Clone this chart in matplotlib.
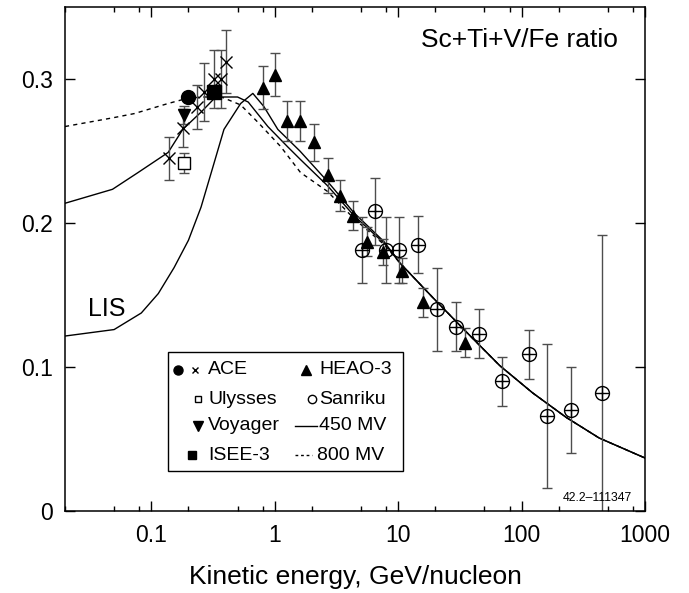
import numpy as np
import matplotlib
matplotlib.use('Agg')
from matplotlib import pyplot as plt
from matplotlib.patches import Rectangle

plt.rcParams['font.family'] = ['Liberation Sans', 'DejaVu Sans']

# model curves (LIS, 450 MV, 800 MV)
lis_x = [0.02, 0.05, 0.083, 0.114, 0.153, 0.20, 0.253, 0.316, 0.388, 0.53, 0.665, 0.815, 1.06, 1.6, 2.67, 4.4, 7.7, 10.4, 19.2, 36, 66.5, 123, 230, 425, 1000]
lis_y = [0.1215, 0.126, 0.1375, 0.151, 0.169, 0.188, 0.211, 0.239, 0.265, 0.283, 0.290, 0.281, 0.265, 0.250, 0.229, 0.207, 0.187, 0.172, 0.148, 0.124, 0.101, 0.082, 0.065, 0.0507, 0.0368]
m450_x = [0.02, 0.0485, 0.078, 0.137, 0.18, 0.253, 0.32, 0.38, 0.50, 0.61, 0.88, 1.27, 1.62, 2.67, 4.4, 7.7, 10.4, 19.2, 36, 66.5, 123, 230, 425, 1000]
m450_y = [0.2137, 0.2234, 0.235, 0.249, 0.265, 0.277, 0.286, 0.2875, 0.2875, 0.284, 0.267, 0.253, 0.244, 0.226, 0.205, 0.186, 0.172, 0.148, 0.124, 0.101, 0.082, 0.065, 0.0507, 0.0368]
m800_x = [0.02, 0.0485, 0.073, 0.137, 0.185, 0.25, 0.37, 0.53, 0.73, 1.12, 1.62, 2.67, 4.4, 7.7, 10.4, 19.2, 36, 66.5, 123, 230, 425, 1000]
m800_y = [0.267, 0.273, 0.276, 0.283, 0.286, 0.2875, 0.2875, 0.282, 0.270, 0.253, 0.235, 0.222, 0.203, 0.185, 0.172, 0.148, 0.124, 0.101, 0.082, 0.065, 0.0507, 0.0368]

# data
heao_x = [0.80, 1.0, 1.25, 1.6, 2.1, 2.7, 3.35, 4.3, 5.6, 7.6, 10.7, 16, 35]
heao_y = [0.294, 0.303, 0.271, 0.271, 0.256, 0.233, 0.219, 0.205, 0.187, 0.180, 0.167, 0.145, 0.117]
heao_e = [0.015, 0.015, 0.014, 0.014, 0.013, 0.012, 0.011, 0.010, 0.010, 0.009, 0.009, 0.010, 0.010]

san_x = [5.1, 6.5, 8.0, 10.2, 14.5, 20.6, 29.4, 45, 70, 114, 162, 253, 450]
san_y = [0.181, 0.208, 0.181, 0.181, 0.185, 0.140, 0.128, 0.123, 0.090, 0.109, 0.066, 0.070, 0.082]
san_e = [0.023, 0.023, 0.023, 0.023, 0.020, 0.029, 0.017, 0.017, 0.017, 0.017, 0.050, 0.030, 0.110]

ace_x = [0.140, 0.181, 0.235, 0.268, 0.322, 0.367, 0.40]
ace_y = [0.245, 0.266, 0.2805, 0.291, 0.300, 0.300, 0.312]
ace_e = [0.015, 0.013, 0.015, 0.020, 0.020, 0.020, 0.022]
ace2_x = [0.199]
ace2_y = [0.2875]

voy_x = [0.185]
voy_y = [0.275]
voy_e = [0.006]

uly_x = [0.185]
uly_y = [0.2417]
uly_e = [0.007]

isee_x = [0.322]
isee_y = [0.291]

fig = plt.figure(figsize=(6.89, 5.93), dpi=100)
ax = fig.add_axes([65/689, 1-511/593, 580/689, 504/593])

ax.plot(lis_x, lis_y, color='k', lw=1)
ax.plot(m450_x, m450_y, color='k', lw=1)
ax.plot(m800_x, m800_y, color='k', lw=1, ls=(0, (3, 3)))

eb = dict(ecolor='0.3', elinewidth=1, capsize=3.3, capthick=1, ls='none')
ax.errorbar(heao_x, heao_y, yerr=heao_e, fmt='^', color='k', ms=9, **eb)
ax.errorbar(san_x, san_y, yerr=san_e, fmt='o', mec='k', mfc='none', ms=10, **eb)
ax.plot(san_x, san_y, '+', color='k', ms=10, mew=1)
ax.errorbar(ace_x, ace_y, yerr=ace_e, fmt='x', color='k', ms=9, mew=1, **eb)
ax.plot(ace2_x, ace2_y, 'o', color='k', ms=10)
ax.errorbar(voy_x, voy_y, yerr=voy_e, fmt='v', color='k', ms=9, **eb)
ax.errorbar(uly_x, uly_y, yerr=uly_e, fmt='s', mec='k', mfc='white', ms=9, **eb)
ax.plot(uly_x, uly_y, '+', color='k', ms=9, mew=1)
ax.plot(isee_x, isee_y, 's', color='k', ms=9.5)

ax.set_xscale('log')
ax.set_xlim(0.02, 1000)
ax.set_ylim(0, 0.35)
ax.set_xticks([0.1, 1, 10, 100, 1000])
ax.set_xticklabels(['0.1', '1', '10', '100', '1000'])
ax.set_xticks([m * 10.0**k for k in range(-2, 3) for m in (2, 5, 8)], minor=True)
ax.xaxis.set_minor_formatter(plt.NullFormatter())
ax.set_yticks([0, 0.1, 0.2, 0.3])
ax.set_yticklabels(['0', '0.1', '0.2', '0.3'])
ax.tick_params(which='both', direction='in', top=True, right=True, labelsize=16.5, pad=9, width=1)
ax.tick_params(which='major', length=7)
ax.tick_params(which='minor', length=3.5)
for s in ax.spines.values():
    s.set_linewidth(1.1)
ax.set_xlabel('Kinetic energy, GeV/nucleon', fontsize=19, labelpad=13)

ax.text(0.953, 0.935, 'Sc+Ti+V/Fe ratio', transform=ax.transAxes, ha='right', va='center', fontsize=19)
ax.text(0.0434, 0.1406, 'LIS', fontsize=18, ha='center', va='center')
ax.text(0.978, 0.026, '42.2\u2013111347', transform=ax.transAxes, ha='right', va='center', fontsize=8.8)

# legend box
T = ax.transAxes
ax.add_patch(Rectangle((0.1776, 0.0794), 0.4052, 0.2361, transform=T, fill=False, ec='k', lw=1, zorder=5))
rows = [0.2798, 0.2222, 0.1687, 0.1111]
fs = 14
ax.plot([0.1948], [rows[0]], 'o', color='k', ms=6.5, transform=T)
ax.plot([0.2241], [rows[0]], 'x', color='k', ms=5, mew=1, transform=T)
ax.plot([0.2293], [rows[1]], 's', mec='k', mfc='none', ms=5, mew=1, transform=T)
ax.plot([0.2293], [rows[2]], 'v', color='k', ms=6.5, transform=T)
ax.plot([0.219], [rows[3]], 's', color='k', ms=6, transform=T)
for r, lab in zip(rows, ['ACE', 'Ulysses', 'Voyager', 'ISEE-3']):
    ax.text(0.2466, r, lab, transform=T, va='center', fontsize=fs)
ax.plot([0.4155], [rows[0]], '^', color='k', ms=6.5, transform=T)
ax.plot([0.4259], [rows[1]], 'o', mec='k', mfc='none', ms=6, mew=1, transform=T)
ax.plot([0.3966, 0.4345], [rows[2], rows[2]], color='k', lw=1, transform=T)
ax.plot([0.3966, 0.4259], [rows[3], rows[3]], color='k', lw=1, ls=(0, (2, 2)), transform=T)
for r, lab, x0 in zip(rows, ['HEAO-3', 'Sanriku', '450 MV', '800 MV'], [0.4379, 0.4379, 0.4379, 0.4345]):
    ax.text(x0, r, lab, transform=T, va='center', fontsize=fs)

fig.savefig('out.png', dpi=100)
